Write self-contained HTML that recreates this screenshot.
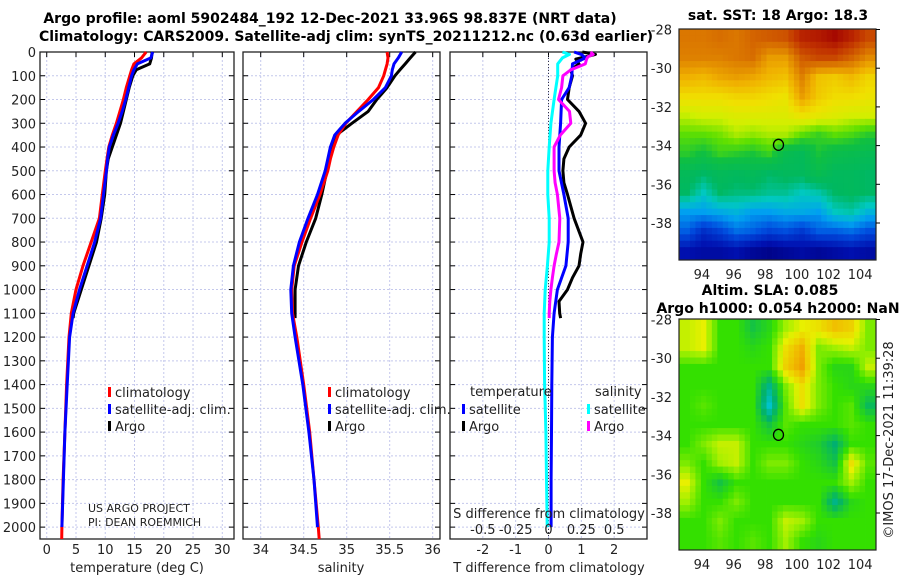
<!DOCTYPE html>
<html><head><meta charset="utf-8"><style>
body{margin:0;background:#fff;}
svg{display:block;font-family:"DejaVu Sans","Liberation Sans",sans-serif;}
.t{font-size:13px;fill:#222;}
.b{font-size:14px;font-weight:bold;fill:#000;}
</style></head><body>
<svg id="fig" width="900" height="580" viewBox="0 0 900 580">
<rect width="900" height="580" fill="#fff"/>
<text class="b" x="330" y="23" text-anchor="middle">Argo profile: aoml 5902484_192 12-Dec-2021 33.96S 98.837E (NRT data)</text>
<text class="b" x="346" y="41" text-anchor="middle">Climatology: CARS2009. Satellite-adj clim: synTS_20211212.nc (0.63d earlier)</text>
<g id="p1"></g>
<g id="p2"></g>
<g id="p3"></g>
<g id="m1"></g>
<g id="m2"></g>
<text class="t" x="88" y="512" style="font-size:11px">US ARGO PROJECT</text>
<text class="t" x="88" y="526" style="font-size:11px">PI: DEAN ROEMMICH</text>
<text class="b" x="778" y="20" text-anchor="middle">sat. SST: 18 Argo: 18.3</text>
<text class="b" x="770" y="295" text-anchor="middle">Altim. SLA: 0.085</text>
<text class="b" x="778" y="313" text-anchor="middle">Argo h1000: 0.054 h2000: NaN</text>
<text class="t" x="0" y="0" transform="translate(893,440) rotate(-90)" text-anchor="middle">©IMOS 17-Dec-2021 11:39:28</text>
</svg>
<script>
// ---------- data ----------
const depthT = [0,25,50,75,100,150,200,250,300,350,400,450,500,600,700,800,900,1000,1100,1200,1400,1600,1800,2000,2050];
const climTemp = [17.0,16.2,14.9,14.5,14.2,13.6,13.1,12.5,11.9,11.2,10.6,10.3,10.0,9.5,9.0,7.6,6.2,5.0,4.2,3.8,3.4,3.1,2.8,2.6,2.55];
const satTemp  = [18.1,17.8,15.5,14.9,14.5,14.0,13.5,12.9,12.2,11.4,10.7,10.4,10.2,9.7,9.2,8.2,6.9,5.6,4.5,3.9,3.5,3.1,2.85,2.6];
const depthA = [0,25,50,75,100,150,200,250,300,350,400,450,500,600,700,800,900,1000,1100,1120];
const argoTemp = [18.0,17.9,17.6,15.3,14.7,14.1,13.6,13.1,12.6,11.9,11.2,10.5,10.2,9.9,9.3,8.5,7.2,5.9,4.6,4.5];
const climSal = [35.47,35.48,35.47,35.45,35.43,35.37,35.25,35.12,34.99,34.90,34.85,34.81,34.78,34.69,34.58,34.48,34.39,34.36,34.37,34.42,34.50,34.57,34.62,34.67,34.68];
const satSal  = [35.64,35.60,35.55,35.53,35.52,35.45,35.31,35.14,34.98,34.86,34.81,34.78,34.75,34.66,34.55,34.45,34.38,34.35,34.36,34.40,34.49,34.56,34.62,34.66];
const argoSal = [35.80,35.74,35.68,35.62,35.56,35.47,35.35,35.25,35.06,34.88,34.84,34.80,34.77,34.71,34.64,34.53,34.44,34.40,34.40,34.40];
const depthD = [0,10,20,30,50,75,100,150,200,250,300,350,400,450,500,550,600,700,800,850,900,950,1000,1050,1100,1120];
const argoTDiff = [1.03,1.43,1.13,0.83,0.93,0.68,0.73,0.63,0.58,0.93,1.13,0.98,0.63,0.47,0.44,0.47,0.58,0.78,1.05,0.98,0.93,0.73,0.58,0.32,0.34,0.37];
const argoSDiff = [0.32,0.34,0.30,0.29,0.28,0.17,0.11,0.10,0.076,0.16,0.17,0.09,0.043,0.043,0.043,0.05,0.068,0.086,0.08,0.06,0.043,0.03,0.018,0.01,0.005,0.005];
const depthS = [0,10,25,50,100,150,200,300,400,500,600,700,800,900,1000,1100,1200,1400,1600,1800,2000];
const satTDiff = [0.78,1.0,1.13,0.73,0.71,0.63,0.40,0.37,0.32,0.32,0.47,0.60,0.60,0.53,0.27,0.17,0.12,0.10,0.09,0.08,0.08];
const satSDiff = [0.106,0.16,0.106,0.07,0.07,0.056,0.043,0.018,0.005,-0.005,-0.005,0.005,0.005,-0.008,-0.025,-0.033,-0.033,-0.03,-0.02,-0.015,-0.01];
const depthTicks = [0,100,200,300,400,500,600,700,800,900,1000,1100,1200,1300,1400,1500,1600,1700,1800,1900,2000];
const tempTicks = [0,5,10,15,20,25,30];
const salTicks = [34,34.5,35,35.5,36];
const tdTicks = [-2,-1,0,1,2];
const sdTicks = [-0.5,-0.25,0,0.25,0.5];
const sdTickLabels = ["-0.5","-0.25","0","0.25","0.5"];
const sstRows = [
[20.0,20.0,20.1,20.0,20.2,20.3,20.4,20.9,21.0,21.2,20.9,20.5],
[19.9,19.9,19.9,20.0,20.1,19.6,19.6,20.3,20.5,20.5,20.2,19.8],
[19.4,19.3,19.5,19.6,19.5,19.3,19.2,19.9,19.2,19.1,19.3,19.0],
[18.9,18.9,18.9,19.0,19.0,18.9,18.8,19.6,19.1,18.9,18.9,18.8],
[18.4,18.5,18.5,18.6,18.6,18.6,18.6,18.8,18.7,18.6,18.5,18.5],
[18.0,18.0,18.1,18.3,18.2,18.3,18.3,18.0,17.8,18.0,17.9,17.7],
[17.7,17.5,17.8,17.7,17.6,17.8,17.2,17.0,17.6,17.3,17.2,17.1],
[17.0,16.8,17.0,16.9,17.0,16.8,16.9,16.9,17.2,16.9,16.9,16.8],
[16.8,16.4,16.8,16.7,16.7,16.6,16.6,16.4,16.5,16.8,16.9,16.8],
[16.0,16.0,16.1,16.2,16.0,16.0,16.1,16.1,16.0,16.4,16.5,16.2],
[15.6,15.2,15.4,15.7,15.6,15.4,15.5,15.3,15.6,15.6,15.7,15.5],
[14.9,14.8,14.8,14.9,14.7,14.6,14.7,14.8,14.7,14.8,14.9,14.8]];
const slaRows = [
[0.4,0.5,0,0,-0.3,-0.1,0.3,0.5,0.6,0.8,0.7,0.2],
[0.4,0.5,0,0,-0.1,0,0.6,0.9,0.2,0.3,0.4,0.2],
[0,0,0,0,0,0,0.7,1.0,0.2,-0.1,-0.1,0.4],
[0,0,0,0,0,-0.6,0.2,0.6,0.2,0,-0.1,-0.1],
[0,0.1,0,0,0,-0.9,0.1,0.6,0.2,0,0.1,-0.4],
[0,0,0,0,0,-0.3,0.1,0,0,0,0.1,0],
[0,0.2,0.4,0.4,0,0,0,-0.1,-0.2,-0.5,0,0],
[0.2,0,0.3,0.4,0,0.2,0.2,0,-0.1,-0.3,0.6,0.1],
[0.5,0,-0.3,0,0,0,0,0,0,0,0.3,0],
[0.3,0,0,0.2,0,0,0,0,0,-0.6,-0.1,0],
[0,0,0.2,0,0,0,0.4,0.3,0,0,0,0],
[0,0,0.1,0,0.1,0,0.3,0,-0.1,0,0,0]];
const latTicks = [-28,-30,-32,-34,-36,-38];
const lonTicks = [94,96,98,100,102,104];
const argoLon = 98.837, argoLat = -33.96;

// ---------- helpers ----------
const NS = "http://www.w3.org/2000/svg";
function mk(parent, tag, attrs, text){
  const e = document.createElementNS(NS, tag);
  for (const k in attrs) e.setAttribute(k, attrs[k]);
  if (text !== undefined) e.textContent = text;
  parent.appendChild(e);
  return e;
}
const yTop = 52, yBot = 539;
const yD = d => yTop + (d / 2050) * (yBot - yTop);

function panel(g, x0, x1, xmin, xmax, ticks, tickLabels, gridTicks){
  const xs = v => x0 + (v - xmin) / (xmax - xmin) * (x1 - x0);
  gridTicks.forEach(v => {
    const gl = mk(g, "line", {x1: xs(v), x2: xs(v), y1: yTop, y2: yBot, stroke: "#c4c8ec", "stroke-width": 1, "stroke-dasharray": "2,2"});
    
    
  });
  depthTicks.forEach(d => {
    const gl = mk(g, "line", {x1: x0, x2: x1, y1: yD(d), y2: yD(d), stroke: "#c4c8ec", "stroke-width": 1, "stroke-dasharray": "2,2"});
    
    
    const t1 = mk(g, "line", {x1: x0, x2: x0 + 5, y1: yD(d), y2: yD(d), stroke: "#000"});
    
    
    const t2 = mk(g, "line", {x1: x1 - 5, x2: x1, y1: yD(d), y2: yD(d), stroke: "#000"});
    
    
  });
  ticks.forEach((v, i) => {
    const tk = mk(g, "line", {x1: xs(v), x2: xs(v), y1: yTop, y2: yTop + 5, stroke: "#000"});
    
    
    if (tickLabels) {
      const tl = mk(g, "text", {x: xs(v), y: 554, "text-anchor": "middle", class: "t"}, tickLabels[i]);
      
      
    }
  });
  const fr = mk(g, "rect", {x: x0, y: yTop, width: x1 - x0, height: yBot - yTop, fill: "none", stroke: "#222", "stroke-width": 1.3});
  
  
  return xs;
}
function line(g, xs, vals, depths, color, name, w){
  const pts = vals.map((v, i) => xs(v).toFixed(1) + "," + yD(depths[i]).toFixed(1)).join(" ");
  const pl = mk(g, "polyline", {points: pts, fill: "none", stroke: color, "stroke-width": w || 3, "stroke-linejoin": "round"});
  
  
}
function legendEntry(g, x, y, color, label){
  const b = mk(g, "rect", {x: x, y: y - 9, width: 3, height: 10, fill: color});
  
  
  const t = mk(g, "text", {x: x + 7, y: y + 1, class: "t"}, label);
  
  
}

// ---------- panel 1 ----------
const p1 = document.getElementById("p1");
const xs1 = panel(p1, 40, 234, -1.15, 32.0, tempTicks, tempTicks.map(String), tempTicks);
depthTicks.forEach(d => {
  const tl = mk(p1, "text", {x: 36, y: yD(d) + 5, "text-anchor": "end", class: "t"}, String(d));
  
  
});
line(p1, xs1, argoTemp, depthA, "#000", "argo-temperature-line");
line(p1, xs1, climTemp, depthT, "#f00", "climatology-temperature-line");
line(p1, xs1, satTemp, depthT.slice(0, satTemp.length), "#00f", "satellite-temperature-line");
legendEntry(p1, 108, 396, "#f00", "climatology");
legendEntry(p1, 108, 413, "#00f", "satellite-adj. clim.");
legendEntry(p1, 108, 430, "#000", "Argo");
const xt1 = mk(p1, "text", {x: 137, y: 572, "text-anchor": "middle", class: "t"}, "temperature (deg C)");



// ---------- panel 2 ----------
const p2 = document.getElementById("p2");
const xs2 = panel(p2, 243, 440, 33.794, 36.085, salTicks, salTicks.map(String), salTicks);
line(p2, xs2, argoSal, depthA, "#000", "argo-salinity-line");
line(p2, xs2, climSal, depthT, "#f00", "climatology-salinity-line");
line(p2, xs2, satSal, depthT.slice(0, satSal.length), "#00f", "satellite-salinity-line");
legendEntry(p2, 328, 396, "#f00", "climatology");
legendEntry(p2, 328, 413, "#00f", "satellite-adj. clim.");
legendEntry(p2, 328, 430, "#000", "Argo");
const xt2 = mk(p2, "text", {x: 341, y: 572, "text-anchor": "middle", class: "t"}, "salinity");



// ---------- panel 3 ----------
const p3 = document.getElementById("p3");
const xs3 = panel(p3, 450, 647, -3, 3, tdTicks, tdTicks.map(String), [-3,-2,-1,0,1,2]);
const xsS = v => xs3(v * 4);
const zl = mk(p3, "line", {x1: xs3(0), x2: xs3(0), y1: yTop, y2: yBot, stroke: "#334", "stroke-width": 1, "stroke-dasharray": "1,2"});


line(p3, xs3, argoTDiff, depthD, "#000", "argo-temperature-diff-line");
line(p3, xs3, satTDiff, depthS, "#00f", "satellite-temperature-diff-line");
line(p3, xsS, argoSDiff, depthD, "#f0f", "argo-salinity-diff-line");
line(p3, xsS, satSDiff, depthS, "#0ff", "satellite-salinity-diff-line");
const lt1 = mk(p3, "text", {x: 470, y: 396, class: "t"}, "temperature");


const lt2 = mk(p3, "text", {x: 595, y: 396, class: "t"}, "salinity");


legendEntry(p3, 462, 413, "#00f", "satellite");
legendEntry(p3, 462, 430, "#000", "Argo");
legendEntry(p3, 587, 413, "#0ff", "satellite");
legendEntry(p3, 587, 430, "#f0f", "Argo");
const st = mk(p3, "text", {x: 549, y: 518, "text-anchor": "middle", class: "t"}, "S difference from climatology");


sdTicks.forEach((v, i) => {
  const tl = mk(p3, "text", {x: xsS(v), y: 534, "text-anchor": "middle", class: "t"}, sdTickLabels[i]);
  
  
});
const xt3 = mk(p3, "text", {x: 549, y: 572, "text-anchor": "middle", class: "t"}, "T difference from climatology");



// ---------- maps ----------
function hex(c){return [parseInt(c.slice(1,3),16),parseInt(c.slice(3,5),16),parseInt(c.slice(5,7),16)];}
function cmap(stops, t){
  t = Math.max(0, Math.min(1, t));
  for (let i = 1; i < stops.length; i++){
    if (t <= stops[i][0]){
      const a = stops[i-1], b = stops[i], f = (t - a[0]) / (b[0] - a[0] || 1);
      const ca = hex(a[1]), cb = hex(b[1]);
      return "rgb(" + ca.map((v, k) => Math.round(v + (cb[k] - v) * f)).join(",") + ")";
    }
  }
  return stops[stops.length-1][1];
}
const sstStops = [[0,"#00007f"],[0.06,"#0010b0"],[0.15,"#0050e0"],[0.22,"#00a0f0"],[0.28,"#00c8c0"],[0.34,"#00b860"],[0.45,"#10c040"],[0.52,"#60e000"],[0.58,"#d0f000"],[0.64,"#f0e000"],[0.72,"#f0b000"],[0.82,"#d87000"],[0.92,"#c03000"],[1,"#a00000"]];
const slaStops = [[0,"#00c8e0"],[0.25,"#00b070"],[0.5,"#34e000"],[0.65,"#a0f000"],[0.75,"#e8f000"],[0.9,"#f0c000"],[1,"#f0a000"]];
function drawMap(g, rows, x0, y0, x1, y1, norm, stops, yLat0, yLat1, name){
  const R = rows.length, C = rows[0].length, up = 3;
  const nr = R * up, nc = C * up, cw = (x1 - x0) / nc, ch = (y1 - y0) / nr;
  for (let i = 0; i < nr; i++){
    for (let j = 0; j < nc; j++){
      let fy = (i + 0.5) / up - 0.5, fx = (j + 0.5) / up - 0.5;
      fy = Math.max(0, Math.min(R - 1, fy)); fx = Math.max(0, Math.min(C - 1, fx));
      const r0 = Math.floor(fy), c0 = Math.floor(fx), r1 = Math.min(R - 1, r0 + 1), c1 = Math.min(C - 1, c0 + 1);
      const dy = fy - r0, dx = fx - c0;
      const v = rows[r0][c0]*(1-dx)*(1-dy) + rows[r0][c1]*dx*(1-dy) + rows[r1][c0]*(1-dx)*dy + rows[r1][c1]*dx*dy;
      const cell = mk(g, "rect", {x: (x0 + j*cw).toFixed(2), y: (y0 + i*ch).toFixed(2), width: (cw + 0.4).toFixed(2), height: (ch + 0.4).toFixed(2), fill: cmap(stops, norm(v))});
      
      
    }
  }
  const lonX = lon => x0 + (lon - 92.55) / (105.0 - 92.55) * (x1 - x0);
  const latY = lat => yLat0 + (lat + 28) / (-10) * (yLat1 - yLat0);
  const fr = mk(g, "rect", {x: x0, y: y0, width: x1 - x0, height: y1 - y0, fill: "none", stroke: "#222", "stroke-width": 1.2});
  
  
  latTicks.forEach(l => {
    const tl = mk(g, "text", {x: 672, y: latY(l) + 5, "text-anchor": "end", class: "t"}, String(l));
    
    
    const tk = mk(g, "line", {x1: x1, x2: x1 + 4, y1: latY(l), y2: latY(l), stroke: "#000"});
    
    
  });
  lonTicks.forEach(l => {
    const tl = mk(g, "text", {x: lonX(l), y: y1 + 19, "text-anchor": "middle", class: "t"}, String(l));
    
    
  });
  const c = mk(g, "ellipse", {cx: lonX(argoLon), cy: latY(argoLat), rx: 5, ry: 5.5, fill: "none", stroke: "#000", "stroke-width": 1.3});
  
  
}
drawMap(document.getElementById("m1"), sstRows, 679, 29, 876, 260, v => (v - 14.5) / 6.8, sstStops, 29.5, 223, "sst");
drawMap(document.getElementById("m2"), slaRows, 679, 319, 876, 550, v => (v + 1) / 2, slaStops, 319.5, 513, "sla");
</script>
</body></html>
